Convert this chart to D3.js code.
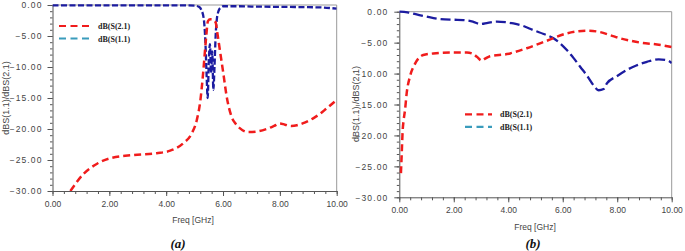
<!DOCTYPE html>
<html lang="en">
<head>
    <meta charset="UTF-8">
    <title>S-parameters (a) and (b)</title>
    <script src="https://d3js.org/d3.v7.min.js"></script>
    <style>
        body { margin: 0; background: #fff; }
        svg { display: block; }
        .tick text { font-family: Arial, "Liberation Sans", sans-serif; fill: #444; }
        .legend text { font-family: "Liberation Serif", "Times New Roman", serif; font-weight: bold; font-size: 8px; fill: #222; }
    </style>
</head>
<body>
    <svg width="685" height="251"></svg>
    <script>
        // ---- data ----
        const xTicks = [0, 2, 4, 6, 8, 10];
        const yTicks = [0, -5, -10, -15, -20, -25, -30];
        const seriesNames = ["dB(S(2.1)", "dB(S(1.1)"];

        // panel (a)
        const freqA21 = [0.63, 1.1, 1.57, 2.04, 2.85, 3.67, 4.14, 4.6, 4.9, 5.08, 5.2, 5.3, 5.4, 5.47, 5.55, 5.65, 5.74, 5.8, 5.89, 6.01, 6.13, 6.3, 6.45, 6.6, 6.88, 7.2, 7.53, 7.8, 8.0, 8.18, 8.4, 8.6, 8.8, 9.0, 9.2, 9.4, 9.64, 10];
        const s21A = [-30, -27.2, -25.6, -24.7, -24.2, -23.9, -23.5, -22.3, -20.7, -18.5, -15.5, -11, -5.5, -2.6, -2.3, -2.4, -2.8, -4.5, -7.3, -11, -14.8, -18, -19.2, -19.9, -20.5, -20.4, -20.0, -19.5, -19.1, -19.3, -19.5, -19.4, -19.1, -18.7, -18.2, -17.6, -16.7, -15.3];
        const freqA11 = [0, 1, 2, 3, 4, 4.5, 5.0, 5.15, 5.25, 5.33, 5.38, 5.42, 5.46, 5.5, 5.54, 5.58, 5.62, 5.66, 5.7, 5.74, 5.78, 5.84, 5.92, 6.0, 6.5, 7, 8, 9, 9.5, 10];
        const s11A = [-0.05, -0.05, -0.05, -0.05, -0.05, -0.05, -0.1, -0.3, -0.9, -2.5, -6, -11, -15, -9, -6.3, -11, -7.5, -13.7, -10, -5, -2.4, -1.0, -0.4, -0.2, -0.2, -0.25, -0.3, -0.35, -0.4, -0.6];

        // panel (b)
        const freqB21 = [0.06, 0.09, 0.12, 0.16, 0.21, 0.27, 0.39, 0.58, 0.88, 1.25, 1.86, 2.48, 2.7, 2.85, 3.03, 3.15, 3.33, 3.95, 4.68, 5.42, 6.15, 6.5, 6.89, 7.38, 7.75, 8.11, 8.5, 8.85, 9.46, 10];
        const s21B = [-26.1, -22.9, -19.5, -17.5, -15.9, -13.2, -10.5, -8.4, -7.0, -6.75, -6.6, -6.6, -6.8, -7.3, -7.9, -7.6, -7.2, -6.85, -5.9, -4.7, -3.5, -3.2, -3.07, -3.3, -3.8, -4.3, -4.7, -5.0, -5.3, -5.7];
        const freqB11 = [0, 0.3, 0.6, 1.0, 1.5, 2.0, 2.35, 2.7, 2.97, 3.25, 3.58, 3.9, 4.19, 4.55, 4.93, 5.3, 5.66, 5.9, 6.15, 6.4, 6.64, 6.9, 7.13, 7.32, 7.5, 7.62, 8.0, 8.36, 8.7, 9.09, 9.52, 9.8, 10];
        const s11B = [0, -0.1, -0.4, -0.8, -1.2, -1.3, -1.35, -1.6, -2.0, -1.8, -1.6, -1.7, -1.9, -2.3, -3.0, -3.6, -4.3, -5.1, -6.2, -7.5, -8.9, -10.4, -11.9, -12.7, -12.5, -11.6, -10.4, -9.4, -8.7, -8.1, -7.7, -7.8, -8.3];

        const red = "#f01c1c", navy = "#1c1ca0", teal = "#3a9cbc";
        const svg = d3.select("svg");

        function drawPanel(p) {
            const x = d3.scaleLinear().domain([0, 10]).range([p.left, p.right]);
            const y = d3.scaleLinear().domain([-30, 0]).range([p.bottom, p.top]);
            const g = svg.append("g");

            // frame (top & right)
            g.append("path")
                .attr("d", `M${p.left},${p.top}H${p.right}V${p.bottom}`)
                .attr("fill", "none").attr("stroke", "#999").attr("stroke-width", 1);

            // minor ticks
            g.append("g").attr("transform", `translate(0,${p.bottom})`)
                .call(d3.axisBottom(x).tickValues(d3.range(0, 10.01, 0.4)).tickSize(3).tickFormat(""))
                .call(a => a.select(".domain").remove())
                .selectAll("line").attr("stroke", "#555");
            g.append("g").attr("transform", `translate(${p.left},0)`)
                .call(d3.axisLeft(y).tickValues(d3.range(-30, 0.01, 1)).tickSize(2.5).tickFormat(""))
                .call(a => a.select(".domain").remove())
                .selectAll("line").attr("stroke", "#555");

            // major axes
            const ax = g.append("g").attr("transform", `translate(0,${p.bottom})`)
                .call(d3.axisBottom(x).tickValues(xTicks).tickSize(5).tickSizeOuter(0).tickPadding(5)
                    .tickFormat(d3.format(".2f")));
            ax.selectAll("text").attr("font-size", 8.5);
            const ay = g.append("g").attr("transform", `translate(${p.left},0)`)
                .call(d3.axisLeft(y).tickValues(yTicks).tickSize(5).tickSizeOuter(0).tickPadding(p.yPad)
                    .tickFormat(d3.format(".2f")));
            ay.selectAll("text").attr("font-size", 8.5).attr("letter-spacing", 1.1);
            g.selectAll(".domain, .tick line").attr("stroke", "#555");

            // clip
            const clipId = "clip" + p.name;
            g.append("clipPath").attr("id", clipId).append("rect")
                .attr("x", p.left).attr("y", p.top - 2)
                .attr("width", p.right - p.left).attr("height", p.bottom - p.top + 2);

            const line = d3.line().x(d => x(d[0])).y(d => y(d[1])).curve(d3.curveMonotoneX);
            const plot = g.append("g").attr("clip-path", `url(#${clipId})`);

            plot.append("path")
                .datum(d3.zip(p.f11, p.s11))
                .attr("d", line).attr("fill", "none")
                .attr("stroke", navy).attr("stroke-width", 2.3)
                .attr("stroke-dasharray", p.blueDash);
            plot.append("path")
                .datum(d3.zip(p.f21, p.s21))
                .attr("d", line).attr("fill", "none")
                .attr("stroke", red).attr("stroke-width", 2.5)
                .attr("stroke-dasharray", "7,4");

            // axis titles
            g.append("text")
                .attr("transform", `translate(${p.titleX},${p.titleY}) rotate(-90)`)
                .attr("text-anchor", "middle")
                .attr("font-family", "Arial, 'Liberation Sans', sans-serif")
                .attr("font-size", 9).attr("fill", "#444")
                .text(p.yTitle);
            g.append("text")
                .attr("x", p.freqX).attr("y", p.freqY)
                .attr("text-anchor", "middle")
                .attr("font-family", "Arial, 'Liberation Sans', sans-serif")
                .attr("font-size", 8.5).attr("fill", "#444")
                .text("Freq [GHz]");
            g.append("text")
                .attr("x", p.capX).attr("y", 248)
                .attr("text-anchor", "middle")
                .attr("font-family", "'Liberation Serif', 'Times New Roman', serif")
                .attr("font-weight", "bold").attr("font-style", "italic")
                .attr("font-size", 13).attr("fill", "#111")
                .text(p.caption);

            // legend
            const lg = g.append("g").attr("class", "legend");
            [red, teal].forEach((c, i) => {
                const ly = p.legY + i * 12.5;
                lg.append("line")
                    .attr("x1", p.legX).attr("x2", p.legX + p.legW)
                    .attr("y1", ly).attr("y2", ly)
                    .attr("stroke", c).attr("stroke-width", 2.2)
                    .attr("stroke-dasharray", "7,4.5");
                lg.append("text")
                    .attr("x", p.legX + p.legW + 8).attr("y", ly + 3)
                    .text(seriesNames[i]);
            });
        }

        drawPanel({
            name: "a", left: 52.5, right: 336.7, top: 5, bottom: 191, yPad: 5,
            f21: freqA21, s21: s21A, f11: freqA11, s11: s11A, blueDash: "6,2.5",
            yTitle: "dBS(1.1)/dBS(2.1)", titleX: 9, titleY: 98,
            freqX: 193, freqY: 223, capX: 178, caption: "(a)",
            legX: 59, legY: 26, legW: 31
        });
        drawPanel({
            name: "b", left: 399.3, right: 671.7, top: 11.7, bottom: 197.3, yPad: 6,
            f21: freqB21, s21: s21B, f11: freqB11, s11: s11B, blueDash: "10,4",
            yTitle: "dBS(1.1) /dBS(2.1)", titleX: 359, titleY: 104,
            freqX: 535, freqY: 230, capX: 533, caption: "(b)",
            legX: 465, legY: 114.3, legW: 27
        });
    </script>
</body>
</html>
